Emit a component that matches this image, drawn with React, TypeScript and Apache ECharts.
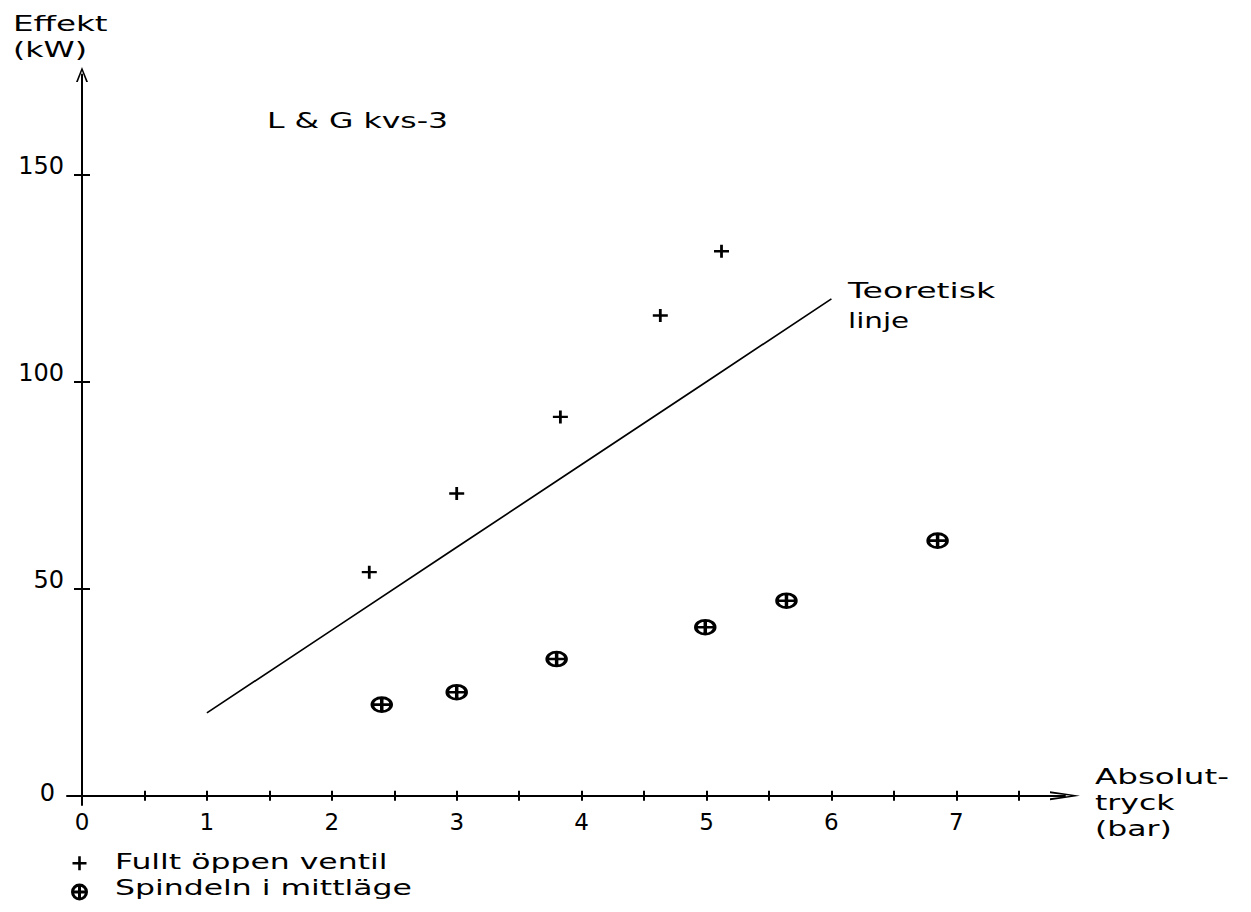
import React, { useEffect, useRef } from "react";
import * as echarts from "echarts";

// ---- data ----
const xTickValues = [0.5, 1, 1.5, 2, 2.5, 3, 3.5, 4, 4.5, 5, 5.5, 6, 6.5, 7, 7.5];
const xLabelValues = [0, 1, 2, 3, 4, 5, 6, 7];
const yTickValues = [50, 100, 150];
const yLabelValues = [0, 50, 100, 150];

const fullOpenPressure = [2.3, 3.0, 3.83, 4.63, 5.12];
const fullOpenPower = [54, 73, 91.5, 116, 131.5];
const midPressure = [2.4, 3.0, 3.8, 4.99, 5.64, 6.85];
const midPower = [22, 25, 33, 40.7, 47.1, 61.6];
const theoryPressure = [1, 2, 3, 4, 5, 6];
const theoryPower = [20, 40, 60, 80, 100, 120];

const seriesNames = ["Fullt öppen ventil", "Spindeln i mittläge", "Teoretisk linje"];

// ---- layout / style ----
const FONT = "'DejaVu Sans', sans-serif";
const FS = 21;
const XLABEL_FS = 23;
const YLABEL_FS = 24;
const BLACK = "#000";

const annotations = [
  { text: "Effekt", x: 13, y: 24, sx: 1.55 },
  { text: "(kW)", x: 13, y: 50, sx: 1.5 },
  { text: "L & G kvs-3", x: 267, y: 121, sx: 1.5 },
  { text: "Teoretisk", x: 848, y: 291, sx: 1.58 },
  { text: "linje", x: 848, y: 321, sx: 1.4 },
  { text: "Absolut-", x: 1095, y: 777, sx: 1.55 },
  { text: "tryck", x: 1095, y: 803, sx: 1.5 },
  { text: "(bar)", x: 1095, y: 829, sx: 1.5 },
  { text: seriesNames[0], x: 115, y: 862, sx: 1.5 },
  { text: seriesNames[1], x: 115, y: 888, sx: 1.5 },
];

const PLUS = "path://M0,6 L12,6 M6,0 L6,12";
const CIRCLE_PLUS =
  "path://M0,5 A5,5 0 1 1 10,5 A5,5 0 1 1 0,5 Z M0,5 L10,5 M5,0 L5,10";
const X_ARROW = "path://M0,30 L4.5,0 L9,30 L7,30 L4.5,9 L2,30 Z";
const Y_ARROW = "path://M0,15 L6,0 L12,15 L10.2,15 L6,4 L1.8,15 Z";

const tickLine = { color: BLACK, width: 2 };

export default function App() {
  const ref = useRef<HTMLDivElement>(null);

  useEffect(() => {
    if (!ref.current) return;
    const chart = echarts.init(ref.current, null, { renderer: "svg" });

    const baseX = {
      type: "value",
      min: -0.12,
      max: 7.87,
      splitLine: { show: false },
      position: "bottom",
    };
    const baseY = {
      type: "value",
      min: -2.25,
      max: 174.2,
      splitLine: { show: false },
      position: "left",
    };

    const option = {
      animation: false,
      backgroundColor: "#fff",
      grid: { left: 67, right: 186, top: 74.5, bottom: 107, containLabel: false },
      xAxis: [
        {
          ...baseX,
          axisLine: {
            show: true,
            onZero: true,
            onZeroAxisIndex: 0,
            lineStyle: { color: BLACK, width: 2 },
            symbol: ["none", X_ARROW],
            symbolSize: [9, 30],
          },
          axisTick: { show: true, customValues: xTickValues, length: 5, lineStyle: tickLine },
          axisLabel: {
            customValues: xLabelValues,
            margin: 5,
            color: BLACK,
            fontSize: XLABEL_FS,
            fontFamily: FONT,
          },
        },
        {
          ...baseX,
          axisLine: { show: false, onZero: true, onZeroAxisIndex: 0 },
          axisTick: {
            show: true,
            customValues: xTickValues,
            inside: true,
            length: 5,
            lineStyle: tickLine,
          },
          axisLabel: { show: false },
        },
      ],
      yAxis: [
        {
          ...baseY,
          axisLine: {
            show: true,
            onZero: true,
            onZeroAxisIndex: 0,
            lineStyle: { color: BLACK, width: 2 },
            symbol: ["none", Y_ARROW],
            symbolSize: [12, 15],
          },
          axisTick: { show: true, customValues: yTickValues, length: 8, lineStyle: tickLine },
          axisLabel: {
            customValues: yLabelValues,
            margin: 3,
            color: BLACK,
            fontSize: YLABEL_FS,
            fontFamily: FONT,
            verticalAlign: "bottom",
            padding: [0, 0, -3, 0],
            formatter: (v: number) => (v === 0 ? "{z|0}" : String(v)),
            rich: {
              z: {
                fontSize: YLABEL_FS,
                fontFamily: FONT,
                color: BLACK,
                padding: [0, 9, -6, 0],
              },
            },
          },
        },
        {
          ...baseY,
          axisLine: { show: false, onZero: true, onZeroAxisIndex: 0 },
          axisTick: {
            show: true,
            customValues: yTickValues,
            inside: true,
            length: 8,
            lineStyle: tickLine,
          },
          axisLabel: { show: false },
        },
      ],
      legend: {
        show: true,
        orient: "vertical",
        left: 71,
        top: 855,
        padding: 0,
        itemWidth: 16,
        itemHeight: 14,
        itemGap: 12,
        selectedMode: false,
        data: [
          {
            name: seriesNames[0],
            icon: PLUS,
            itemStyle: { color: "transparent", borderColor: BLACK, borderWidth: 2.6, opacity: 1 },
          },
          {
            name: seriesNames[1],
            icon: CIRCLE_PLUS,
            itemStyle: { color: "transparent", borderColor: BLACK, borderWidth: 3, opacity: 1 },
          },
        ],
        formatter: () => "",
        textStyle: { fontSize: 14, lineHeight: 14 },
      },
      series: [
        {
          name: seriesNames[2],
          type: "line",
          xAxisIndex: 0,
          yAxisIndex: 0,
          data: theoryPressure.map((p, i) => [p, theoryPower[i]]),
          symbol: "none",
          lineStyle: { color: BLACK, width: 1.7 },
          silent: true,
        },
        {
          name: seriesNames[0],
          type: "scatter",
          xAxisIndex: 0,
          yAxisIndex: 0,
          data: fullOpenPressure.map((p, i) => [p, fullOpenPower[i]]),
          symbol: PLUS,
          symbolSize: [15, 13],
          itemStyle: { color: "transparent", borderColor: BLACK, borderWidth: 2.6, opacity: 1 },
          silent: true,
        },
        {
          name: seriesNames[1],
          type: "scatter",
          xAxisIndex: 0,
          yAxisIndex: 0,
          data: midPressure.map((p, i) => [p, midPower[i]]),
          symbol: CIRCLE_PLUS,
          symbolSize: [19, 14],
          itemStyle: { color: "transparent", borderColor: BLACK, borderWidth: 3, opacity: 1 },
          silent: true,
        },
      ],
      graphic: annotations.map((a) => ({
        type: "text",
        x: a.x,
        y: a.y,
        scaleX: a.sx,
        silent: true,
        style: {
          text: a.text,
          fontSize: FS,
          fontFamily: FONT,
          fill: BLACK,
          verticalAlign: "middle",
          align: "left",
        },
      })),
    };

    chart.setOption(option as any);
    return () => chart.dispose();
  }, []);

  return (
    <div
      ref={ref}
      style={{ position: "absolute", left: 0, top: 0, width: 1251, height: 912, background: "#fff" }}
    />
  );
}
